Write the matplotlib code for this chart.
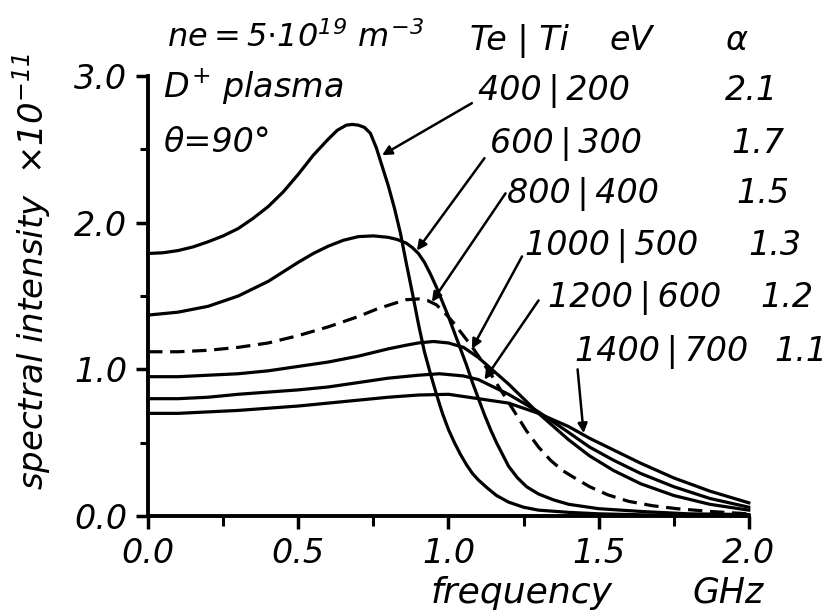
import numpy as np
import matplotlib
matplotlib.use('Agg')
import matplotlib.pyplot as plt
from matplotlib.ticker import MultipleLocator

plt.rcParams['font.family'] = ['DejaVu Sans']
plt.rcParams['font.style'] = 'oblique'
plt.rcParams['mathtext.fontset'] = 'custom'
plt.rcParams['mathtext.rm'] = 'DejaVu Sans:oblique'
plt.rcParams['mathtext.it'] = 'DejaVu Sans:oblique'
plt.rcParams['mathtext.sf'] = 'DejaVu Sans:oblique'

# Data (frequency in GHz, intensity in 1e-11)
labels = ['400\u2009|\u2009200', '600\u2009|\u2009300', '800\u2009|\u2009400',
          '1000\u2009|\u2009500', '1200\u2009|\u2009600', '1400\u2009|\u2009700']
alphas = ['2.1', '1.7', '1.5', '1.3', '1.2', '1.1']

x_400 = [0.0, 0.05, 0.1, 0.15, 0.2, 0.25, 0.3, 0.35, 0.4, 0.45, 0.5, 0.55, 0.6,
         0.63, 0.66, 0.68, 0.70, 0.72, 0.74, 0.76, 0.78, 0.80, 0.82, 0.84, 0.86,
         0.88, 0.90, 0.92, 0.94, 0.96, 0.98, 1.00, 1.02, 1.04, 1.06, 1.08, 1.10,
         1.13, 1.16, 1.20, 1.25, 1.30, 1.40, 1.50, 1.65, 1.80, 2.0]
y_400 = [1.79, 1.795, 1.81, 1.835, 1.87, 1.91, 1.96, 2.03, 2.11, 2.21, 2.33,
         2.46, 2.57, 2.63, 2.665, 2.67, 2.665, 2.65, 2.61, 2.51, 2.38, 2.25, 2.10,
         1.93, 1.72, 1.52, 1.31, 1.12, 0.97, 0.83, 0.70, 0.59, 0.50, 0.42, 0.35,
         0.29, 0.245, 0.19, 0.14, 0.095, 0.06, 0.04, 0.025, 0.015, 0.008, 0.004,
         0.0]

x_600 = [0.0, 0.1, 0.2, 0.3, 0.4, 0.5, 0.55, 0.6, 0.65, 0.7, 0.75, 0.8, 0.83,
         0.86, 0.88, 0.90, 0.92, 0.94, 0.96, 0.98, 1.00, 1.02, 1.04, 1.06, 1.08,
         1.10, 1.12, 1.14, 1.16, 1.18, 1.20, 1.23, 1.26, 1.30, 1.35, 1.40, 1.50,
         1.65, 1.80, 2.0]
y_600 = [1.37, 1.39, 1.43, 1.50, 1.60, 1.73, 1.79, 1.84, 1.88, 1.905, 1.91,
         1.90, 1.885, 1.86, 1.83, 1.79, 1.73, 1.65, 1.56, 1.46, 1.36, 1.25, 1.14,
         1.03, 0.91, 0.80, 0.69, 0.59, 0.50, 0.42, 0.34, 0.26, 0.20, 0.15, 0.11,
         0.08, 0.05, 0.03, 0.015, 0.01]

x_800 = [0.0, 0.1, 0.2, 0.3, 0.4, 0.5, 0.6, 0.7, 0.76, 0.82, 0.86, 0.90, 0.93,
         0.96, 0.99, 1.02, 1.05, 1.08, 1.11, 1.14, 1.18, 1.22, 1.26, 1.30, 1.34,
         1.38, 1.42, 1.47, 1.53, 1.60, 1.68, 1.76, 1.88, 2.0]
y_800 = [1.12, 1.12, 1.13, 1.15, 1.18, 1.23, 1.29, 1.36, 1.41, 1.45, 1.475,
         1.48, 1.47, 1.44, 1.38, 1.31, 1.23, 1.15, 1.06, 0.97, 0.84, 0.71, 0.58,
         0.47, 0.38, 0.31, 0.26, 0.20, 0.145, 0.10, 0.07, 0.05, 0.03, 0.015]

x_1000 = [0.0, 0.1, 0.2, 0.3, 0.4, 0.5, 0.6, 0.7, 0.8, 0.86, 0.9, 0.95, 1.0,
          1.05, 1.1, 1.15, 1.2, 1.25, 1.3, 1.35, 1.4, 1.47, 1.55, 1.64, 1.75,
          1.87, 2.0]
y_1000 = [0.95, 0.95, 0.96, 0.97, 0.99, 1.02, 1.05, 1.09, 1.14, 1.165, 1.18,
          1.19, 1.18, 1.15, 1.08, 0.99, 0.90, 0.80, 0.70, 0.61, 0.52, 0.41, 0.31,
          0.22, 0.14, 0.08, 0.04]

x_1200 = [0.0, 0.1, 0.2, 0.3, 0.4, 0.5, 0.6, 0.7, 0.8, 0.9, 0.97, 1.05, 1.1,
          1.15, 1.2, 1.25, 1.3, 1.35, 1.4, 1.47, 1.55, 1.64, 1.75, 1.87, 2.0]
y_1200 = [0.80, 0.80, 0.81, 0.83, 0.845, 0.86, 0.88, 0.91, 0.94, 0.96, 0.97,
          0.955, 0.93, 0.88, 0.83, 0.77, 0.71, 0.64, 0.57, 0.47, 0.38, 0.29, 0.20,
          0.12, 0.06]

x_1400 = [0.0, 0.1, 0.2, 0.3, 0.4, 0.5, 0.6, 0.7, 0.8, 0.9, 1.0, 1.1, 1.2, 1.3,
          1.4, 1.47, 1.55, 1.64, 1.75, 1.87, 2.0]
y_1400 = [0.70, 0.70, 0.71, 0.72, 0.735, 0.75, 0.77, 0.79, 0.81, 0.825, 0.83,
          0.80, 0.77, 0.70, 0.61, 0.53, 0.45, 0.36, 0.26, 0.17, 0.09]

series_x = [x_400, x_600, x_800, x_1000, x_1200, x_1400]
series_y = [y_400, y_600, y_800, y_1000, y_1200, y_1400]

# where each label arrow touches its curve, and where the arrow starts
arrow_tip = [(0.779, 2.46), (0.895, 1.81), (0.945, 1.46),
             (1.078, 1.14), (1.12, 0.93), (1.45, 0.565)]
arrow_tail = [(1.078, 2.815), (1.12, 2.44), (1.19, 2.20),
              (1.245, 1.77), (1.30, 1.47), (1.43, 1.00)]
label_pos = [(1.098, 2.836), (1.138, 2.474), (1.195, 2.134),
             (1.255, 1.779), (1.331, 1.425), (1.421, 1.057)]
alpha_x = [1.92, 1.943, 1.96, 1.997, 2.037, 2.085]

fig = plt.figure(figsize=(8.32, 6.16), dpi=100)
ax = fig.add_axes([0.178, 0.1623, 0.722, 0.7143])

for i in range(len(series_x)):
    if i == 2:
        ax.plot(series_x[i], series_y[i], color='k', lw=2.3, dashes=(4.5, 2.4),
                clip_on=False, solid_joinstyle='round')
    else:
        ax.plot(series_x[i], series_y[i], color='k', lw=2.3, clip_on=False,
                solid_joinstyle='round')

fs = 24
fs_lab = 24.5
for i in range(len(labels)):
    ax.annotate('', xy=arrow_tip[i], xytext=arrow_tail[i],
                arrowprops=dict(arrowstyle='-|>', color='k', lw=1.8,
                                mutation_scale=14, shrinkA=0, shrinkB=0),
                annotation_clip=False)
    ax.text(label_pos[i][0], label_pos[i][1], labels[i], fontsize=fs,
            ha='left', va='baseline', clip_on=False)
    ax.text(alpha_x[i], label_pos[i][1], alphas[i], fontsize=fs,
            ha='left', va='baseline', clip_on=False)

ax.text(1.072, 3.177, 'Te | Ti', fontsize=fs, ha='left', va='baseline', clip_on=False)
ax.text(1.537, 3.177, 'eV', fontsize=fs, ha='left', va='baseline', clip_on=False)
ax.text(1.92, 3.177, r'$\alpha$', fontsize=fs, ha='left', va='baseline', clip_on=False)

ax.text(0.063, 3.197, r'$ne{=}5{\cdot}10^{19}\ m^{-3}$', fontsize=23,
        ha='left', va='baseline', clip_on=False)
ax.text(0.05, 2.85, r'$D^{+}\ plasma$', fontsize=fs,
        ha='left', va='baseline', clip_on=False)
ax.text(0.05, 2.48, 'θ=90°', fontsize=fs, ha='left', va='baseline', clip_on=False)

ax.set_xlim(0, 2.0)
ax.set_ylim(0, 3.0)
ax.spines['top'].set_visible(False)
ax.spines['right'].set_visible(False)
ax.spines['left'].set_linewidth(2.8)
ax.spines['bottom'].set_linewidth(2.8)

ax.xaxis.set_major_locator(MultipleLocator(0.5))
ax.xaxis.set_minor_locator(MultipleLocator(0.25))
ax.yaxis.set_major_locator(MultipleLocator(1.0))
ax.yaxis.set_minor_locator(MultipleLocator(0.5))
ax.set_xticklabels([f'{v:.1f}' for v in ax.get_xticks()])
ax.set_yticklabels([f'{v:.1f}' for v in ax.get_yticks()])

ax.tick_params(axis='both', which='major', direction='out', length=9,
               width=2.5, labelsize=fs, pad=6)
ax.tick_params(axis='x', which='minor', direction='out', length=7, width=2.2)
ax.tick_params(axis='y', which='minor', direction='out', length=6, width=2.2)

ax.set_ylabel(r'spectral intensity  $\times 10^{-11}$', fontsize=fs_lab)
ax.yaxis.set_label_coords(-0.158, 0.555)

ax.text(0.939, -0.593, 'frequency', fontsize=26, ha='left', va='baseline',
        clip_on=False)
ax.text(1.814, -0.593, 'GHz', fontsize=25, ha='left', va='baseline',
        clip_on=False)

fig.savefig('out.png', dpi=100)
